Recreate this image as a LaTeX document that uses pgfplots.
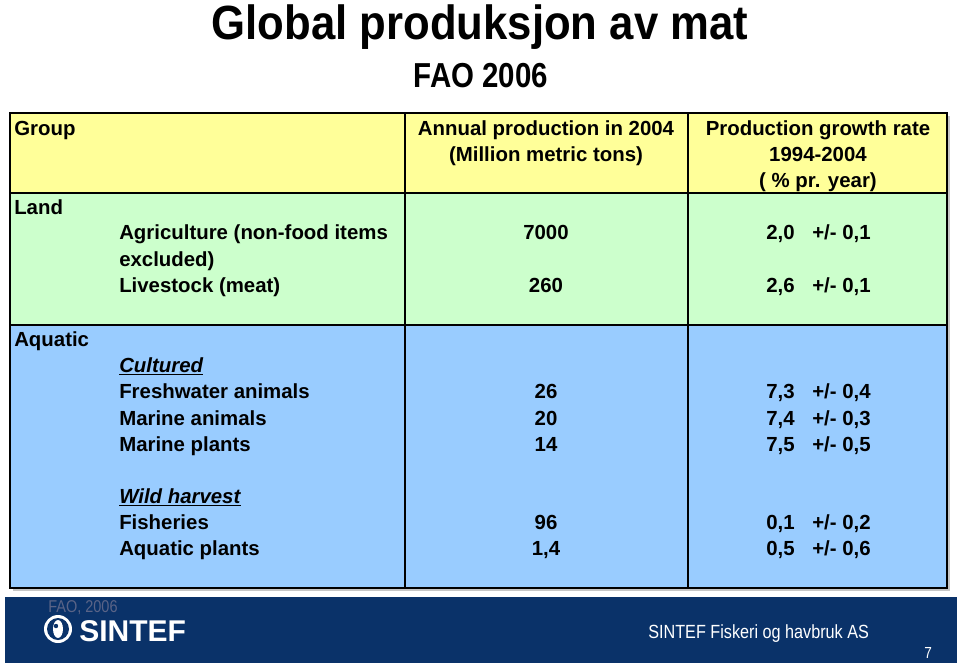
\documentclass[border=0pt]{standalone}
\usepackage{pgfplots}
\pgfplotsset{compat=1.18}
\usepackage{pgfplotstable}
\usepackage{fontspec}
\setmainfont{Liberation Sans}
\newfontfamily\narrowfont[FakeStretch=0.85]{Liberation Sans}
\newfontfamily\titlefont[FakeStretch=0.91]{Liberation Sans}

\definecolor{hdr}{RGB}{255,255,153}
\definecolor{land}{RGB}{204,255,204}
\definecolor{aqua}{RGB}{153,204,255}
\definecolor{navy}{RGB}{10,50,105}

% y = baseline (px from top), production, growth rate, +/- error
\pgfplotstableread{
y prod rate err
239 7000 2,0 0,1
292 260 2,6 0,1
398 26 7,3 0,4
425 20 7,4 0,3
451 14 7,5 0,5
529 96 0,1 0,2
555 1,4 0,5 0,6
}\fao

\newcommand{\tf}{\bfseries\fontsize{15.3}{18}\selectfont}

\begin{document}
\begin{tikzpicture}[
    txt/.style={anchor=base west, inner sep=0pt, font=\tf},
    ctr/.style={anchor=base, inner sep=0pt, font=\tf},
  ]
\begin{axis}[
    hide axis, scale only axis,
    width=720pt, height=498.75pt,
    xmin=0, xmax=960, ymin=0, ymax=665,
    y dir=reverse, clip=false,
  ]
  \fill[white] (0,0) rectangle (960,665);

  % table background
  \fill[gray!45] (13,116) rectangle (950,591);
  \fill[hdr] (10,113) rectangle (947,193);
  \fill[land] (10,193) rectangle (947,325);
  \fill[aqua] (10,325) rectangle (947,588);
  \draw[line width=2.2pt] (10,113) rectangle (947,588);
  \draw[line width=2.2pt] (10,193) -- (947,193);
  \draw[line width=2.2pt] (10,325) -- (947,325);
  \draw[line width=2.2pt] (405,113) -- (405,588);
  \draw[line width=2.2pt] (688,113) -- (688,588);

  % title
  \node[anchor=base, inner sep=0pt, font=\titlefont\bfseries\fontsize{36}{40}\selectfont] at (480,39) {Global produksjon av mat};
  \node[anchor=base, inner sep=0pt, font=\narrowfont\bfseries\fontsize{26}{28}\selectfont] at (481,87) {FAO 2006};

  % header
  \node[txt] at (14,135) {Group};
  \node[ctr] at (546,135) {Annual production in 2004};
  \node[ctr] at (546,161) {(Million metric tons)};
  \node[ctr] at (818,135) {Production growth rate};
  \node[ctr] at (818,161) {1994-2004};
  \node[ctr] at (818,187) {( \% pr. year)};

  % row labels
  \node[txt] at (14,214) {Land};
  \node[txt] at (119,239) {Agriculture (non-food items};
  \node[txt] at (119,266) {excluded)};
  \node[txt] at (119,292) {Livestock (meat)};
  \node[txt] at (14,346) {Aquatic};
  \node[txt] at (119,372) {\underline{\textit{Cultured}}};
  \node[txt] at (119,398) {Freshwater animals};
  \node[txt] at (119,425) {Marine animals};
  \node[txt] at (119,451) {Marine plants};
  \node[txt] at (119,503) {\underline{\textit{Wild harvest}}};
  \node[txt] at (119,529) {Fisheries};
  \node[txt] at (119,555) {Aquatic plants};

  % values
  \addplot[draw=none, no markers, nodes near coords, point meta=explicit symbolic,
    every node near coord/.style={anchor=base, inner sep=0pt, font=\tf}]
    table[x expr=546, y=y, meta=prod] {\fao};
  \addplot[draw=none, no markers, nodes near coords, point meta=explicit symbolic,
    every node near coord/.style={anchor=base east, inner sep=0pt, font=\tf}]
    table[x expr=795, y=y, meta=rate] {\fao};
  \addplot[draw=none, no markers, nodes near coords={+/- \pgfplotspointmeta}, point meta=explicit symbolic,
    every node near coord/.style={anchor=base west, inner sep=0pt, font=\tf}]
    table[x expr=812, y=y, meta=err] {\fao};

  % footer band
  \fill[navy] (5,597) rectangle (957,663);
  \node[anchor=base west, inner sep=0pt, text={rgb,255:red,90;green,100;blue,135},
    font=\narrowfont\fontsize{12.8}{14}\selectfont] at (48,612) {FAO, 2006};
  \fill[white] (58,629) circle[radius=14];
  \fill[navy] (58,629) circle[radius=11];
  \fill[white] (58,629) ellipse[x radius=5, y radius=9];
  \fill[navy] (56,626) circle[radius=2.2];
  \node[anchor=base west, inner sep=0pt, text=white, font=\bfseries\fontsize{22.5}{24}\selectfont] at (79,641) {SINTEF};
  \node[anchor=base west, inner sep=0pt, text=white, font=\narrowfont\fontsize{14.3}{16}\selectfont] at (648,638) {SINTEF Fiskeri og havbruk AS};
  \node[anchor=base west, inner sep=0pt, text=white, font=\narrowfont\fontsize{12}{14}\selectfont] at (924,658) {7};
\end{axis}
\end{tikzpicture}
\end{document}
